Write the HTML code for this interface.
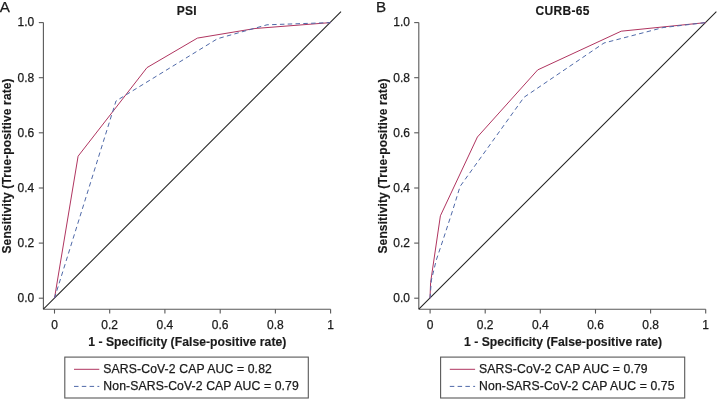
<!DOCTYPE html>
<html><head><meta charset="utf-8"><style>
html,body{margin:0;padding:0;background:#fff;width:717px;height:399px;overflow:hidden}
svg{display:block;will-change:transform;}
text{stroke:#1a1a1a;stroke-width:0.25px;}
text[font-weight=bold]{stroke-width:0.15px;}
text{font-family:"Liberation Sans",sans-serif}
</style></head><body>
<svg width="717" height="399" viewBox="0 0 717 399">
<rect width="717" height="399" fill="#fff"/>
<text x="-0.2" y="12.1" font-size="15.2" fill="#1a1a1a">A</text>
<text x="186.8" y="15.4" font-size="12" letter-spacing="0.3" font-weight="bold" text-anchor="middle" fill="#1a1a1a">PSI</text>
<path d="M43.4,309.2 V22.6" stroke="#585858" stroke-width="1.1" fill="none"/>
<path d="M38.8,298.2 H43.4" stroke="#585858" stroke-width="1.1" fill="none"/>
<path d="M38.8,243.1 H43.4" stroke="#585858" stroke-width="1.1" fill="none"/>
<path d="M38.8,188.0 H43.4" stroke="#585858" stroke-width="1.1" fill="none"/>
<path d="M38.8,132.8 H43.4" stroke="#585858" stroke-width="1.1" fill="none"/>
<path d="M38.8,77.7 H43.4" stroke="#585858" stroke-width="1.1" fill="none"/>
<path d="M38.8,22.6 H43.4" stroke="#585858" stroke-width="1.1" fill="none"/>
<text x="34.2" y="302.0" font-size="12" text-anchor="end" fill="#1a1a1a">0.0</text>
<text x="34.2" y="246.9" font-size="12" text-anchor="end" fill="#1a1a1a">0.2</text>
<text x="34.2" y="191.8" font-size="12" text-anchor="end" fill="#1a1a1a">0.4</text>
<text x="34.2" y="136.6" font-size="12" text-anchor="end" fill="#1a1a1a">0.6</text>
<text x="34.2" y="81.5" font-size="12" text-anchor="end" fill="#1a1a1a">0.8</text>
<text x="34.2" y="26.4" font-size="12" text-anchor="end" fill="#1a1a1a">1.0</text>
<path d="M43.4,309.2 H330.6" stroke="#585858" stroke-width="1.1" fill="none"/>
<path d="M54.5,309.2 V313.6" stroke="#585858" stroke-width="1.1" fill="none"/>
<path d="M109.7,309.2 V313.6" stroke="#585858" stroke-width="1.1" fill="none"/>
<path d="M164.9,309.2 V313.6" stroke="#585858" stroke-width="1.1" fill="none"/>
<path d="M220.2,309.2 V313.6" stroke="#585858" stroke-width="1.1" fill="none"/>
<path d="M275.4,309.2 V313.6" stroke="#585858" stroke-width="1.1" fill="none"/>
<path d="M330.6,309.2 V313.6" stroke="#585858" stroke-width="1.1" fill="none"/>
<text x="54.5" y="328.5" font-size="12" text-anchor="middle" fill="#1a1a1a">0</text>
<text x="109.7" y="328.5" font-size="12" text-anchor="middle" fill="#1a1a1a">0.2</text>
<text x="164.9" y="328.5" font-size="12" text-anchor="middle" fill="#1a1a1a">0.4</text>
<text x="220.2" y="328.5" font-size="12" text-anchor="middle" fill="#1a1a1a">0.6</text>
<text x="275.4" y="328.5" font-size="12" text-anchor="middle" fill="#1a1a1a">0.8</text>
<text x="330.6" y="328.5" font-size="12" text-anchor="middle" fill="#1a1a1a">1</text>
<text x="187.3" y="345.9" font-size="12.2" letter-spacing="0.03" font-weight="bold" text-anchor="middle" fill="#1a1a1a">1 - Specificity (False-positive rate)</text>
<text transform="translate(10.8,165.9) rotate(-90)" x="0" y="0" font-size="12" letter-spacing="0.12" font-weight="bold" text-anchor="middle" fill="#1a1a1a">Sensitivity (True-positive rate)</text>
<path d="M43.4,309.2 L341.0,11.6" stroke="#222222" stroke-width="1.05" fill="none"/>
<polyline points="54.5,298.2 78.1,156.2 147.0,67.6 197.4,38.1 255.0,28.5 330.6,22.6" stroke="#b03560" stroke-width="1.0" fill="none" stroke-linejoin="round"/>
<polyline points="54.5,298.2 116.0,101.0 217.5,38.7 267.0,24.8 330.6,22.6" stroke="#4f69a8" stroke-width="1.0" fill="none" stroke-dasharray="4.5 3.3" stroke-linejoin="round"/>
<rect x="64.8" y="357.1" width="243.5" height="40.9" stroke="#585858" stroke-width="1.1" fill="none"/>
<path d="M74.0,369.3 H99.3" stroke="#b03560" stroke-width="1.0"/>
<path d="M74.0,386.4 H99.3" stroke="#4f69a8" stroke-width="1.0" stroke-dasharray="4.5 3.3"/>
<text x="103.3" y="372.6" font-size="12.2" letter-spacing="0.13" fill="#1a1a1a">SARS-CoV-2 CAP AUC = 0.82</text>
<text x="103.3" y="389.9" font-size="12.2" letter-spacing="0.13" fill="#1a1a1a">Non-SARS-CoV-2 CAP AUC = 0.79</text>
<text x="376.1" y="12.1" font-size="15.2" fill="#1a1a1a">B</text>
<text x="562.6" y="15.4" font-size="12" letter-spacing="0.3" font-weight="bold" text-anchor="middle" fill="#1a1a1a">CURB-65</text>
<path d="M418.8,309.2 V22.6" stroke="#585858" stroke-width="1.1" fill="none"/>
<path d="M414.2,298.2 H418.8" stroke="#585858" stroke-width="1.1" fill="none"/>
<path d="M414.2,243.1 H418.8" stroke="#585858" stroke-width="1.1" fill="none"/>
<path d="M414.2,188.0 H418.8" stroke="#585858" stroke-width="1.1" fill="none"/>
<path d="M414.2,132.8 H418.8" stroke="#585858" stroke-width="1.1" fill="none"/>
<path d="M414.2,77.7 H418.8" stroke="#585858" stroke-width="1.1" fill="none"/>
<path d="M414.2,22.6 H418.8" stroke="#585858" stroke-width="1.1" fill="none"/>
<text x="410.0" y="302.0" font-size="12" text-anchor="end" fill="#1a1a1a">0.0</text>
<text x="410.0" y="246.9" font-size="12" text-anchor="end" fill="#1a1a1a">0.2</text>
<text x="410.0" y="191.8" font-size="12" text-anchor="end" fill="#1a1a1a">0.4</text>
<text x="410.0" y="136.6" font-size="12" text-anchor="end" fill="#1a1a1a">0.6</text>
<text x="410.0" y="81.5" font-size="12" text-anchor="end" fill="#1a1a1a">0.8</text>
<text x="410.0" y="26.4" font-size="12" text-anchor="end" fill="#1a1a1a">1.0</text>
<path d="M418.8,309.2 H705.7" stroke="#585858" stroke-width="1.1" fill="none"/>
<path d="M430.1,309.2 V313.6" stroke="#585858" stroke-width="1.1" fill="none"/>
<path d="M485.2,309.2 V313.6" stroke="#585858" stroke-width="1.1" fill="none"/>
<path d="M540.3,309.2 V313.6" stroke="#585858" stroke-width="1.1" fill="none"/>
<path d="M595.5,309.2 V313.6" stroke="#585858" stroke-width="1.1" fill="none"/>
<path d="M650.6,309.2 V313.6" stroke="#585858" stroke-width="1.1" fill="none"/>
<path d="M705.7,309.2 V313.6" stroke="#585858" stroke-width="1.1" fill="none"/>
<text x="430.1" y="328.5" font-size="12" text-anchor="middle" fill="#1a1a1a">0</text>
<text x="485.2" y="328.5" font-size="12" text-anchor="middle" fill="#1a1a1a">0.2</text>
<text x="540.3" y="328.5" font-size="12" text-anchor="middle" fill="#1a1a1a">0.4</text>
<text x="595.5" y="328.5" font-size="12" text-anchor="middle" fill="#1a1a1a">0.6</text>
<text x="650.6" y="328.5" font-size="12" text-anchor="middle" fill="#1a1a1a">0.8</text>
<text x="705.7" y="328.5" font-size="12" text-anchor="middle" fill="#1a1a1a">1</text>
<text x="563.1" y="345.9" font-size="12.2" letter-spacing="0.03" font-weight="bold" text-anchor="middle" fill="#1a1a1a">1 - Specificity (False-positive rate)</text>
<text transform="translate(387.2,165.9) rotate(-90)" x="0" y="0" font-size="12" letter-spacing="0.12" font-weight="bold" text-anchor="middle" fill="#1a1a1a">Sensitivity (True-positive rate)</text>
<path d="M418.8,309.2 L716.4,11.6" stroke="#222222" stroke-width="1.05" fill="none"/>
<polyline points="430.0,298.2 430.6,282.4 440.4,215.8 477.4,137.0 537.7,69.9 621.2,31.2 705.7,22.6" stroke="#b03560" stroke-width="1.0" fill="none" stroke-linejoin="round"/>
<polyline points="430.0,298.2 431.4,280.0 436.3,260.0 443.0,240.0 452.8,210.0 460.1,186.4 524.0,97.3 604.0,43.0 663.0,27.6 705.7,22.6" stroke="#4f69a8" stroke-width="1.0" fill="none" stroke-dasharray="4.5 3.3" stroke-linejoin="round"/>
<rect x="440.6" y="357.1" width="244.1" height="40.9" stroke="#585858" stroke-width="1.1" fill="none"/>
<path d="M449.8,369.3 H475.1" stroke="#b03560" stroke-width="1.0"/>
<path d="M449.8,386.4 H475.1" stroke="#4f69a8" stroke-width="1.0" stroke-dasharray="4.5 3.3"/>
<text x="479.1" y="372.6" font-size="12.2" letter-spacing="0.13" fill="#1a1a1a">SARS-CoV-2 CAP AUC = 0.79</text>
<text x="479.1" y="389.9" font-size="12.2" letter-spacing="0.13" fill="#1a1a1a">Non-SARS-CoV-2 CAP AUC = 0.75</text>
</svg>
</body></html>
